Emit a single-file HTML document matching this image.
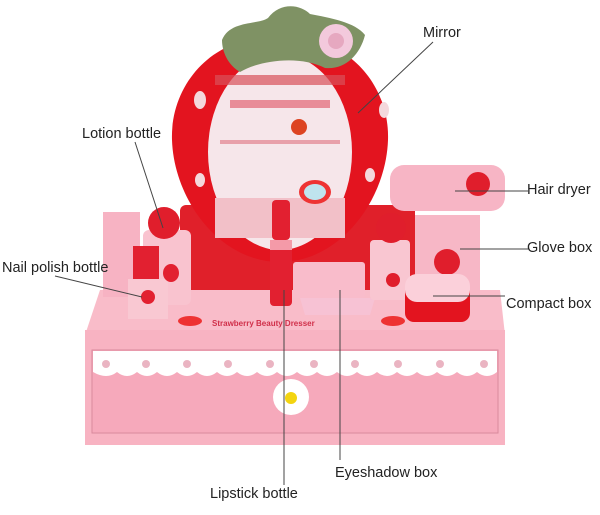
<!DOCTYPE html>
<html><head><meta charset="utf-8"><style>
body{margin:0;background:#fff;width:600px;height:515px;overflow:hidden}
svg{display:block}
text{font-family:"Liberation Sans",sans-serif;font-size:14.5px;fill:#222}
</style></head><body>
<svg width="600" height="515" viewBox="0 0 600 515">
<rect x="180" y="205" width="235" height="88" rx="6" fill="#e0202a"/>
<path d="M280 40 C340 30 390 80 388 140 C386 200 340 262 280 262 C220 262 174 200 172 140 C170 80 220 30 280 40Z" fill="#e3141f"/>
<ellipse cx="280" cy="152" rx="72" ry="98" fill="#f6e6ea"/>
<rect x="215" y="75" width="130" height="10" fill="#d9505a" opacity=".7"/>
<rect x="230" y="100" width="100" height="8" fill="#e05060" opacity=".6"/>
<rect x="220" y="140" width="120" height="4" fill="#e8a0aa"/>
<rect x="215" y="198" width="130" height="40" fill="#f2c0c8"/>
<ellipse cx="315" cy="192" rx="16" ry="12" fill="#e33" /><ellipse cx="315" cy="192" rx="11" ry="8" fill="#bfe4ee"/>
<circle cx="299" cy="127" r="8" fill="#d42"/>
<ellipse cx="200" cy="100" rx="6" ry="9" fill="#f4d8dc"/><ellipse cx="384" cy="110" rx="5" ry="8" fill="#f4d8dc"/>
<ellipse cx="200" cy="180" rx="5" ry="7" fill="#f4d8dc"/><ellipse cx="370" cy="175" rx="5" ry="7" fill="#f4d8dc"/>
<path d="M222 40 C230 20 258 25 268 18 C280 2 300 4 310 14 C330 18 355 22 365 35 C360 55 345 70 325 68 C300 55 260 60 240 72 C228 65 222 52 222 40Z" fill="#7f9264"/>
<circle cx="336" cy="41" r="17" fill="#f3c9dc"/><circle cx="336" cy="41" r="8" fill="#e6a8c0"/>
<path d="M100 290 L500 290 L505 335 L85 335Z" fill="#f9bcc9"/>
<rect x="85" y="330" width="420" height="115" fill="#f8b3c2"/>
<rect x="92" y="350" width="406" height="83" fill="#f6a9bb" stroke="#d98a9c"/>
<path d="M93 351 H497 V372 Q487 380 477 372 Q467 380 457 372 Q447 380 437 372 Q427 380 417 372 Q407 380 397 372 Q387 380 377 372 Q367 380 357 372 Q347 380 337 372 Q327 380 317 372 Q307 380 297 372 Q287 380 277 372 Q267 380 257 372 Q247 380 237 372 Q227 380 217 372 Q207 380 197 372 Q187 380 177 372 Q167 380 157 372 Q147 380 137 372 Q127 380 117 372 Q107 380 93 372Z" fill="#fff"/>
<g fill="#eab4c2"><circle cx="106" cy="364" r="4"/><circle cx="146" cy="364" r="4"/><circle cx="187" cy="364" r="4"/><circle cx="228" cy="364" r="4"/><circle cx="270" cy="364" r="4"/><circle cx="314" cy="364" r="4"/><circle cx="355" cy="364" r="4"/><circle cx="398" cy="364" r="4"/><circle cx="440" cy="364" r="4"/><circle cx="484" cy="364" r="4"/></g>
<circle cx="291" cy="397" r="18" fill="#fff"/><circle cx="291" cy="398" r="6" fill="#f3d410"/>
<text x="212" y="326" style="font-size:8px;fill:#d0304a;font-weight:bold">Strawberry Beauty Dresser</text>
<ellipse cx="190" cy="321" rx="12" ry="5" fill="#e33"/><ellipse cx="393" cy="321" rx="12" ry="5" fill="#e33"/>
<rect x="103" y="212" width="37" height="85" fill="#f7b3c3"/>
<rect x="143" y="230" width="48" height="75" rx="6" fill="#f9c3cf"/>
<circle cx="164" cy="223" r="16" fill="#e01e2c"/>
<rect x="133" y="246" width="26" height="35" fill="#e22030"/>
<rect x="128" y="279" width="40" height="40" fill="#f9c8d2"/>
<circle cx="148" cy="297" r="7" fill="#e22030"/>
<ellipse cx="171" cy="273" rx="8" ry="9" fill="#e22030"/>
<rect x="272" y="200" width="18" height="40" rx="4" fill="#e22030"/>
<rect x="270" y="240" width="22" height="66" rx="4" fill="#e22030"/>
<rect x="270" y="240" width="22" height="10" fill="#f49aa8"/>
<rect x="293" y="262" width="72" height="36" rx="3" fill="#f9bccb"/>
<path d="M300 298 L375 298 L370 315 L305 315Z" fill="#f7c2d4"/>
<rect x="370" y="240" width="40" height="60" rx="4" fill="#f9c6d1"/>
<circle cx="391" cy="228" r="15" fill="#e01e2c"/>
<circle cx="393" cy="280" r="7" fill="#e01e2c"/>
<rect x="415" y="215" width="65" height="85" fill="#f7b7c6"/>
<circle cx="447" cy="262" r="13" fill="#e01e2c"/>
<rect x="390" y="165" width="115" height="46" rx="14" fill="#f7b5c5"/>
<circle cx="478" cy="184" r="12" fill="#e01e2c"/>
<rect x="405" y="280" width="65" height="42" rx="9" fill="#e3141f"/>
<rect x="405" y="274" width="65" height="28" rx="12" fill="#fbd0da"/>
<g stroke="#444" stroke-width="1" fill="none">
<line x1="433" y1="42" x2="358" y2="113"/>
<line x1="135" y1="142" x2="163" y2="228"/>
<line x1="455" y1="191" x2="528" y2="191"/>
<line x1="460" y1="249" x2="528" y2="249"/>
<line x1="55" y1="276" x2="142" y2="297"/>
<line x1="433" y1="296" x2="505" y2="296"/>
<line x1="340" y1="290" x2="340" y2="460"/>
<line x1="284" y1="290" x2="284" y2="485"/>
</g>
<text x="423" y="37">Mirror</text>
<text x="82" y="138">Lotion bottle</text>
<text x="527" y="194">Hair dryer</text>
<text x="527" y="252">Glove box</text>
<text x="2" y="272">Nail polish bottle</text>
<text x="506" y="308">Compact box</text>
<text x="335" y="477">Eyeshadow box</text>
<text x="210" y="498">Lipstick bottle</text>
</svg>
</body></html>
